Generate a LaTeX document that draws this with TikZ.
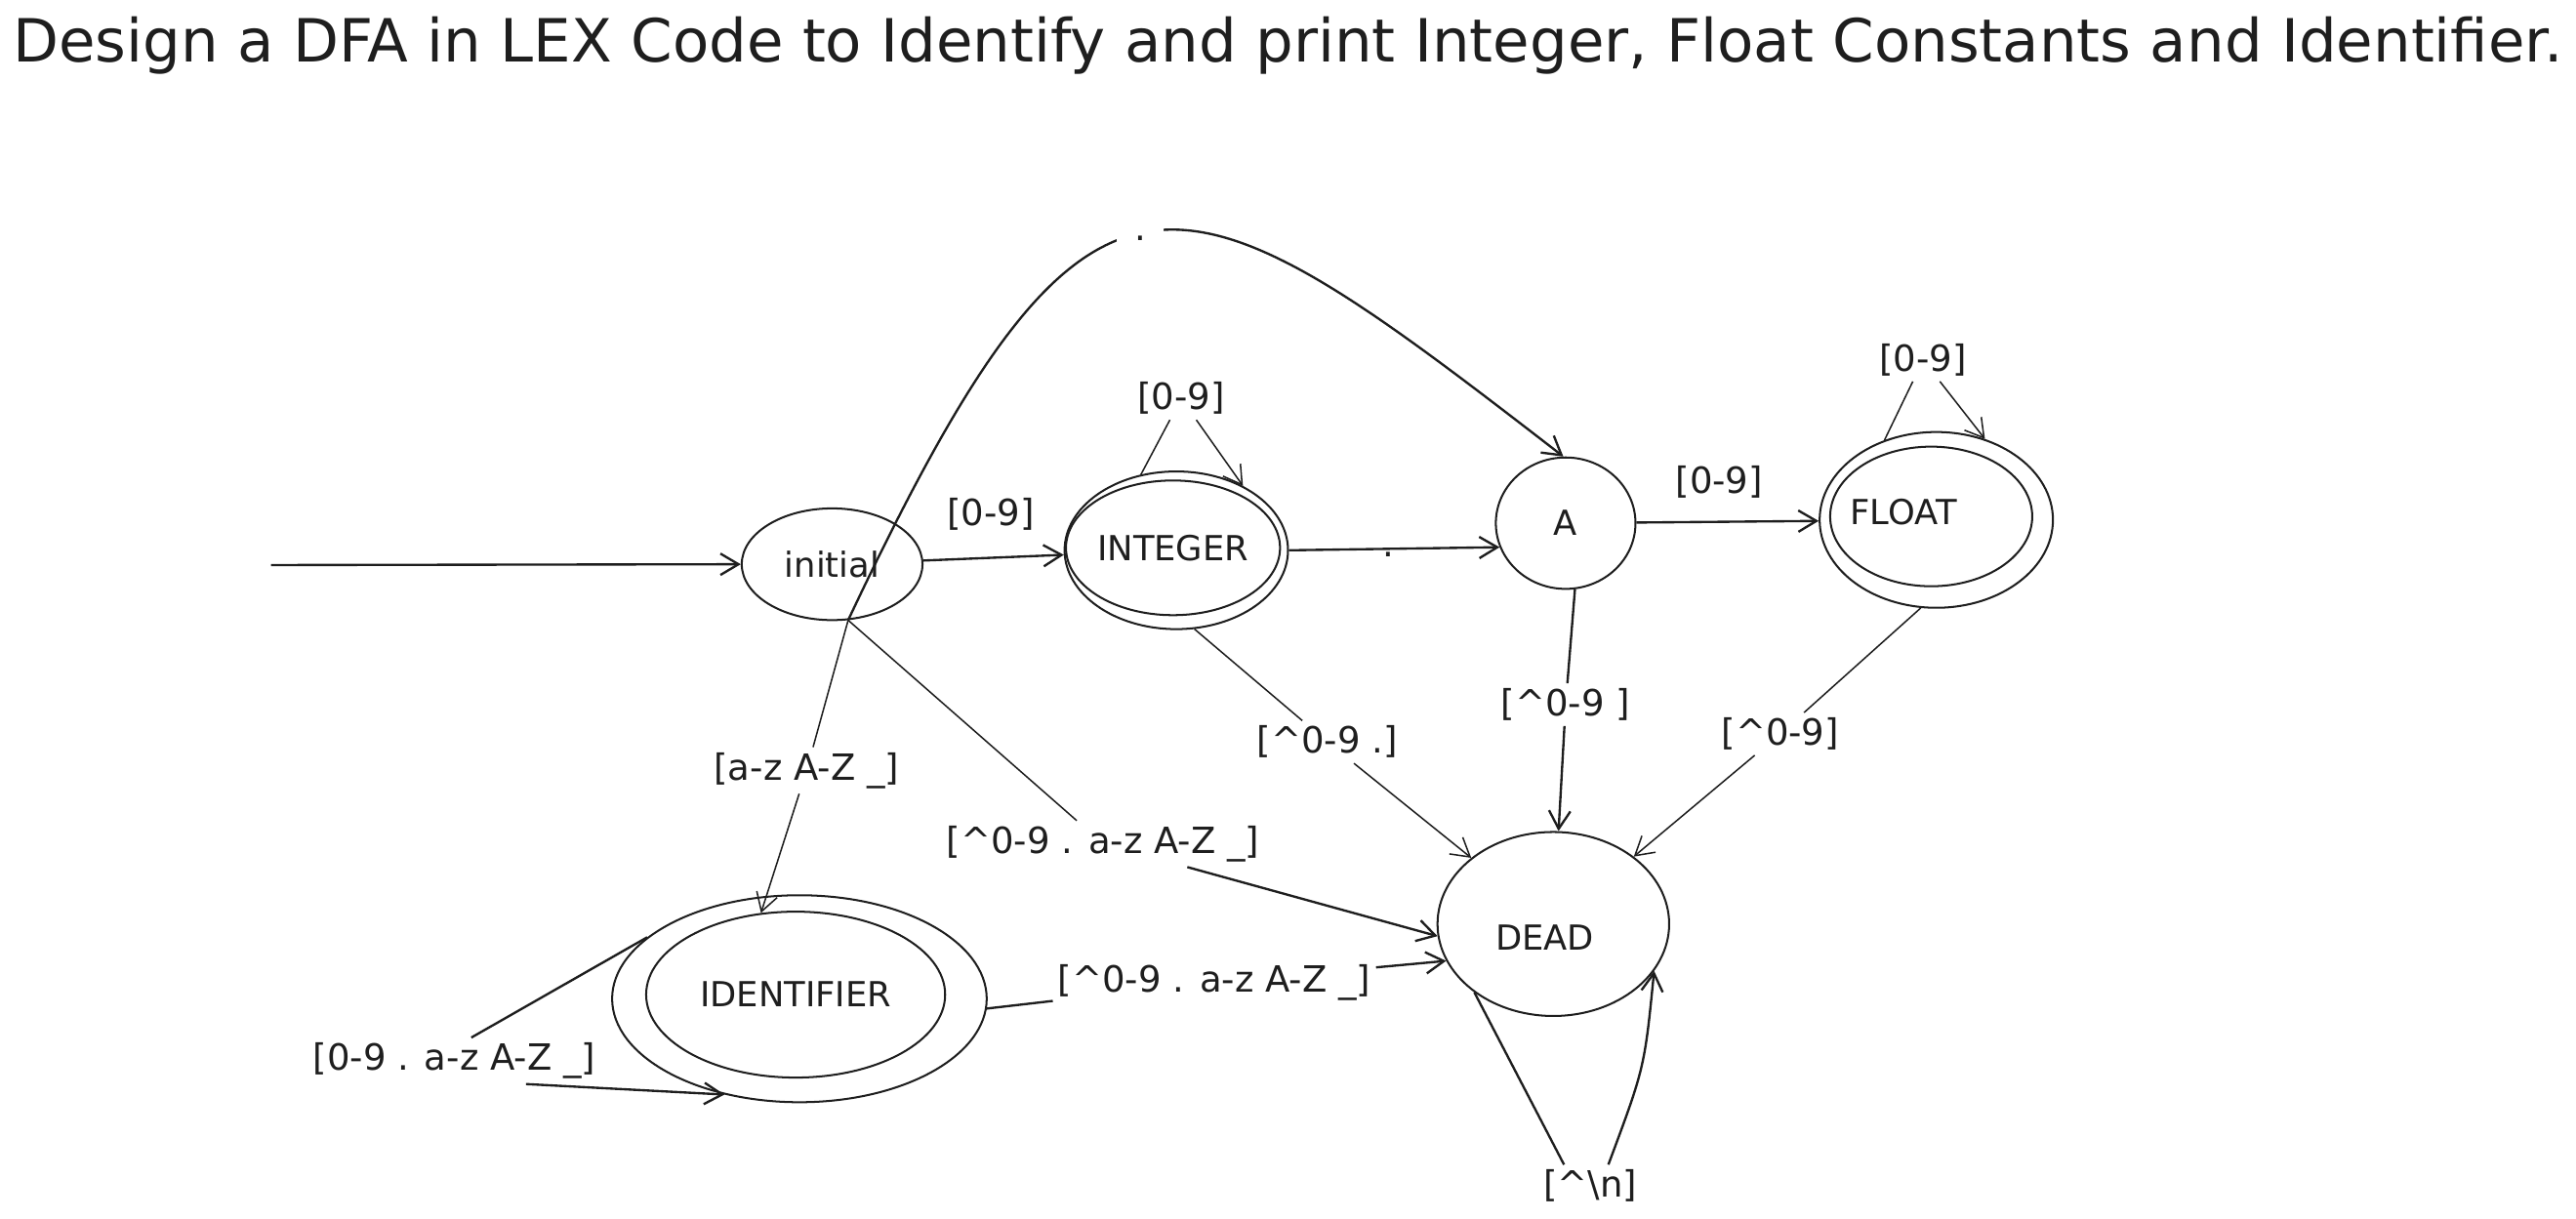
\documentclass[tikz,border=0pt]{standalone}
\usepackage{graphicx}
\usepackage{fontspec}
\setmainfont{DejaVu Sans}
\usetikzlibrary{shapes.geometric,arrows.meta}
\definecolor{ink}{HTML}{1E1E1E}
\begin{document}
\begin{tikzpicture}[x=1pt,y=-1pt,color=ink,
  st/.style={draw=ink, ellipse, line width=1.2pt, inner sep=0pt, font=\fontsize{21}{25}\selectfont},
  txt/.style={font=\fontsize{21}{25}\selectfont, inner sep=0pt},
  lbl/.style={font=\fontsize{22}{26}\selectfont, inner sep=3pt, text=ink},
  thk/.style={draw=ink, line width=1.4pt},
  thn/.style={draw=ink, line width=0.9pt},
  arr/.style={-{Straight Barb[length=11pt,width=13pt]}}
]
\useasboundingbox (0,0) rectangle (1568,742);

% title
\node[anchor=base, inner sep=0pt] (title) at (784,38)
  {\resizebox{1552pt}{!}{\fontsize{30}{36}\selectfont Design a DFA in LEX Code to Identify and print Integer, Float Constants and Identifier.}};

% states
\node[st, minimum width=110pt, minimum height=68pt] (initial) at (506.5,343.5) {initial};
\node[st, minimum width=136pt, minimum height=96pt] (INTout) at (716,335) {};
\node[st, minimum width=120pt, minimum height=82pt] (INTin) at (714,333.5) {INTEGER};
\node[st, minimum width=85pt, minimum height=80pt] (A) at (953,318.5) {A};
\node[st, minimum width=142pt, minimum height=107pt] (FLout) at (1178.6,316.5) {};
\node[st, minimum width=123pt, minimum height=85pt] (FLin) at (1175.5,314.4) {};
\node[txt] (FLtxt) at (1158.7,312) {FLOAT};
\node[st, minimum width=141pt, minimum height=112pt] (DEAD) at (945.5,562.5) {};
\node[txt] (DEADtxt) at (940.3,571) {DEAD};
\node[st, minimum width=228pt, minimum height=126pt] (IDout) at (486.6,608) {};
\node[st, minimum width=182pt, minimum height=101pt] (IDin) at (484.3,605.5) {IDENTIFIER};

% labels
\node[lbl] (lII) at (603,313) {[0-9]};
\node[lbl] (lIL) at (719,242.6) {[0-9]};
\node[lbl] (ldot2) at (845,337.5) {.};
\node[lbl] (lAF) at (1046.5,293.7) {[0-9]};
\node[lbl] (lFL) at (1170.6,219.2) {[0-9]};
\node[lbl] (lAD) at (953,429) {[\textasciicircum 0-9 ]};
\node[lbl] (lFD) at (1083.6,446.8) {[\textasciicircum 0-9]};
\node[lbl] (lINTD) at (808,451.7) {[\textasciicircum 0-9 .]};
\node[lbl] (lIID) at (491,469) {[a-z A-Z \_]};
\node[lbl] (lIDead) at (671.5,513.7) {[\textasciicircum 0-9 . a-z A-Z \_]};
\node[lbl] (lIDD) at (739.2,598) {[\textasciicircum 0-9 . a-z A-Z \_]};
\node[lbl] (lIDL) at (276.6,645.8) {[0-9 . a-z A-Z \_]};
\node[lbl] (lDD) at (968,722) {[\textasciicircum\textbackslash n]};

% connectors
\coordinate (start) at (165,344);
\draw[thk,arr] (start) -- (initial.west);
\draw[thk,arr] (initial) -- (INTout);
\draw[thk,arr] (INTout.east) -- (A.200);
\draw[thk,arr] (A) -- (FLout);
\draw[thn,arr] (INTout.115) -- (lIL) -- (INTout.44);
\draw[thn,arr] (FLout.123) -- (lFL) -- (FLout.59);
\draw[thk,arr] (A.-82) -- (lAD) -- (DEAD);
\draw[thn,arr] (FLout.-100) -- (lFD) -- (DEAD);
\draw[thn,arr] (INTout.-77) -- (lINTD) -- (DEAD);
\draw[thn,arr] (initial.-74) -- (lIID) -- (IDin.113);
\draw[thn] (initial.-74) -- (lIDead);
\draw[thk,arr] (lIDead) -- (DEAD.186);
\draw[thk,arr] (IDout.-3) -- (lIDD) -- (DEAD.199);
\draw[thk] (IDout.158) -- (lIDL.54);
\draw[thk,arr] (lIDL.-18) -- (IDout.-128);
\draw[thk] (DEAD.221) -- ([xshift=-16pt]lDD.north);
\draw[thk,arr] ([xshift=11pt]lDD.north) .. controls (1001,650) .. (DEAD.-25);
\draw[thk,arr] (initial.-74) .. controls (665,62) and (715,95) .. (A.92);
\node[lbl, fill=white, minimum width=28pt, minimum height=12pt, inner sep=0pt] (ldot1) at (694,145) {.};
\end{tikzpicture}
\end{document}
